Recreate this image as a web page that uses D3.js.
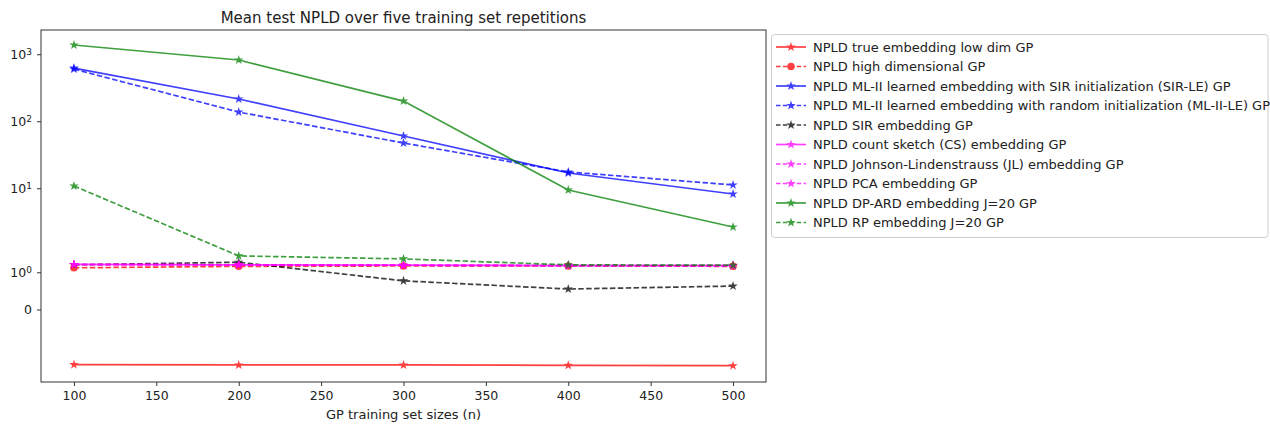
<!DOCTYPE html>
<html>
<head>
<meta charset="utf-8">
<script src="https://cdn.jsdelivr.net/npm/d3@7"></script>
<style>
  body { margin: 0; background: #fff; }
  text { font-family: "DejaVu Sans", sans-serif; fill: #222; }
</style>
</head>
<body>
<div id="canvas"></div>
<script>
"use strict"

/* data */
let sizes = [100, 200, 300, 400, 500];
let seriesNames = [
    "NPLD true embedding low dim GP",
    "NPLD high dimensional GP",
    "NPLD ML-II learned embedding with SIR initialization (SIR-LE) GP",
    "NPLD ML-II learned embedding with random initialization (ML-II-LE) GP",
    "NPLD SIR embedding GP",
    "NPLD count sketch (CS) embedding GP",
    "NPLD Johnson-Lindenstrauss (JL) embedding GP",
    "NPLD PCA embedding GP",
    "NPLD DP-ARD embedding J=20 GP",
    "NPLD RP embedding J=20 GP"
];
let trueLowDim = [-1.48, -1.49, -1.49, -1.50, -1.51];
let highDim = [1.12, 1.16, 1.17, 1.17, 1.16];
let sirLE = [622, 215, 60.3, 16.9, 8.2];
let mlIILE = [600, 137, 47.3, 17.5, 11.2];
let sirEmb = [1.2, 1.27, 0.77, 0.55, 0.63];
let countSketch = [1.21, 1.2, 1.19, 1.18, 1.18];
let johnsonL = [1.21, 1.2, 1.19, 1.18, 1.18];
let pcaEmb = [1.21, 1.2, 1.19, 1.18, 1.18];
let dpArd = [1374, 820, 200, 9.4, 2.64];
let rpEmb = [10.8, 1.44, 1.36, 1.2, 1.19];
let yTickValues = [0, 1, 10, 100, 1000];
let xTickValues = [100, 150, 200, 250, 300, 350, 400, 450, 500];

/* drawing config */
let svgWidth = 1270;
let svgHeight = 429;
let plotLeft = 41, plotRight = 766, plotTop = 30, plotBottom = 382;

let svg = d3.select("#canvas")
    .append("svg")
    .attr("width", svgWidth)
    .attr("height", svgHeight);

/* symlog like matplotlib: linthresh 2, linscale 1 */
let linthresh = 2;
let linscaleAdj = 1 / (1 - 1 / 10);
function symlog(v) {
    let a = Math.abs(v);
    if (a <= linthresh) return v / linthresh * linscaleAdj;
    return Math.sign(v) * (linscaleAdj + Math.log10(a / linthresh));
}

let xScale = d3.scaleLinear()
    .domain([80, 520])
    .range([plotLeft, plotRight]);

let yLin = d3.scaleLinear()
    .domain([-1.082, 4.172])
    .range([plotBottom, plotTop]);

function yScale(v) { return yLin(symlog(v)); }

let dashed = "5.5,2.4";
let series = [
    { name: seriesNames[0], values: trueLowDim, color: "#ff0000", dash: null, marker: d3.symbolStar },
    { name: seriesNames[1], values: highDim, color: "#ff0000", dash: dashed, marker: d3.symbolCircle },
    { name: seriesNames[2], values: sirLE, color: "#0000ff", dash: null, marker: d3.symbolStar },
    { name: seriesNames[3], values: mlIILE, color: "#0000ff", dash: dashed, marker: d3.symbolStar },
    { name: seriesNames[4], values: sirEmb, color: "#000000", dash: dashed, marker: d3.symbolStar },
    { name: seriesNames[5], values: countSketch, color: "#ff00ff", dash: null, marker: d3.symbolStar },
    { name: seriesNames[6], values: johnsonL, color: "#ff00ff", dash: dashed, marker: d3.symbolStar },
    { name: seriesNames[7], values: pcaEmb, color: "#ff00ff", dash: dashed, marker: d3.symbolStar },
    { name: seriesNames[8], values: dpArd, color: "#008000", dash: null, marker: d3.symbolStar },
    { name: seriesNames[9], values: rpEmb, color: "#008000", dash: dashed, marker: d3.symbolStar }
];

function markSize(s) { return s.marker === d3.symbolCircle ? 45 : 28; }

/* lines and markers */
let line = d3.line()
    .x(function (d, i) { return xScale(sizes[i]); })
    .y(function (d) { return yScale(d); });

let plot = svg.append("g");
series.forEach(function (s) {
    let g = plot.append("g").attr("opacity", 0.75);
    g.append("path")
        .attr("d", line(s.values))
        .attr("fill", "none")
        .attr("stroke", s.color)
        .attr("stroke-width", 1.7)
        .attr("stroke-dasharray", s.dash);
    g.selectAll("path.mark")
        .data(s.values)
        .join("path")
        .attr("class", "mark")
        .attr("transform", function (d, i) {
            return "translate(" + xScale(sizes[i]) + "," + yScale(d) + ")";
        })
        .attr("d", d3.symbol().type(s.marker).size(markSize(s)))
        .attr("fill", s.color);
});

/* frame */
svg.append("rect")
    .attr("x", plotLeft)
    .attr("y", plotTop)
    .attr("width", plotRight - plotLeft)
    .attr("height", plotBottom - plotTop)
    .attr("fill", "none")
    .attr("stroke", "#333")
    .attr("stroke-width", 1);

/* x axis */
let xAxis = svg.append("g")
    .attr("transform", "translate(0," + plotBottom + ")")
    .call(d3.axisBottom(xScale).tickValues(xTickValues).tickSize(4).tickPadding(5));
xAxis.select(".domain").remove();
xAxis.selectAll("line").attr("stroke", "#333");
xAxis.selectAll("text")
    .style("font-family", "DejaVu Sans")
    .style("font-size", "12.5px")
    .attr("fill", "#222");

/* y axis */
let yAxis = svg.append("g")
    .attr("transform", "translate(" + plotLeft + ",0)")
    .call(d3.axisLeft(yLin).tickValues(yTickValues.map(symlog)).tickSize(4).tickPadding(5).tickFormat(""));
yAxis.select(".domain").remove();
yAxis.selectAll("line").attr("stroke", "#333");
yAxis.selectAll("g.tick").each(function (d, i) {
    let v = yTickValues[i];
    let t = d3.select(this).select("text")
        .style("font-family", "DejaVu Sans")
        .style("font-size", "12.5px")
        .attr("fill", "#222");
    if (v === 0) {
        t.text("0");
    } else {
        t.append("tspan").text("10");
        t.append("tspan")
            .attr("dy", "-0.45em")
            .style("font-size", "9px")
            .text(Math.round(Math.log10(v)));
    }
});

/* title and axis label */
svg.append("text")
    .attr("x", (plotLeft + plotRight) / 2)
    .attr("y", 23)
    .attr("text-anchor", "middle")
    .style("font-size", "15px")
    .text("Mean test NPLD over five training set repetitions");

svg.append("text")
    .attr("x", (plotLeft + plotRight) / 2)
    .attr("y", 419)
    .attr("text-anchor", "middle")
    .style("font-size", "13px")
    .text("GP training set sizes (n)");

/* legend */
let legX = 771.5, legY = 34.5, legStep = 19.5;
svg.append("rect")
    .attr("x", legX)
    .attr("y", legY)
    .attr("width", 1268 - legX)
    .attr("height", 203)
    .attr("rx", 3)
    .attr("fill", "#fff")
    .attr("stroke", "#d0d0d0");

series.forEach(function (s, i) {
    let cy = 47 + i * legStep;
    let g = svg.append("g").attr("opacity", 0.75);
    g.append("line")
        .attr("x1", 776).attr("x2", 806)
        .attr("y1", cy).attr("y2", cy)
        .attr("stroke", s.color)
        .attr("stroke-width", 1.7)
        .attr("stroke-dasharray", s.dash ? "4.5,2.4" : null);
    g.append("path")
        .attr("transform", "translate(791," + cy + ")")
        .attr("d", d3.symbol().type(s.marker).size(markSize(s)))
        .attr("fill", s.color);
    svg.append("text")
        .attr("x", 813)
        .attr("y", cy + 4.5)
        .style("font-size", "13px")
        .text(s.name);
});
</script>
</body>
</html>
